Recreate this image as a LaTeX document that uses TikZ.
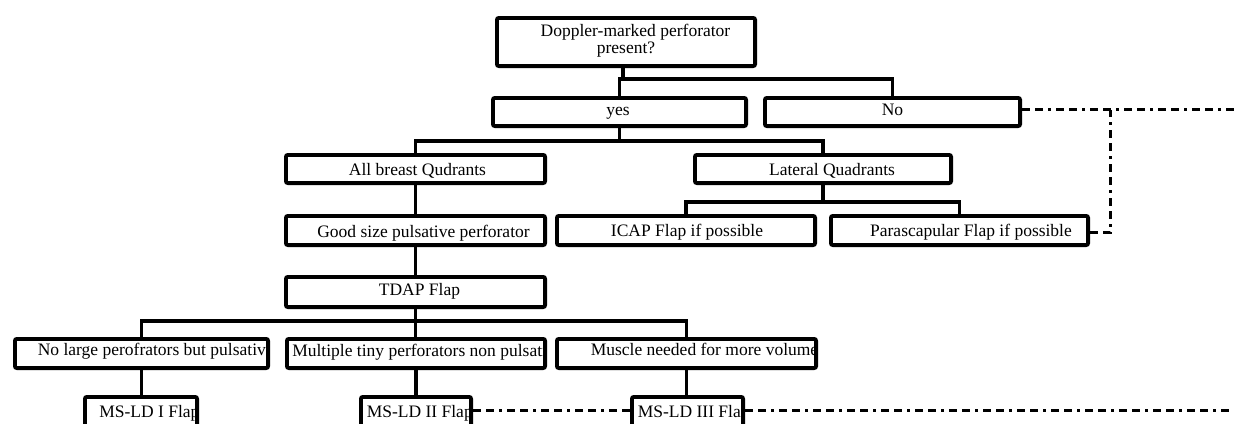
\documentclass[tikz,border=0pt]{standalone}
\usepackage{fontspec}
\setmainfont{Liberation Serif}
\begin{document}
\begin{tikzpicture}[x=1pt,y=-1pt,
  fs/.style={font=\fontsize{17.5}{19}\selectfont},
  inner/.style={inner sep=0pt, minimum width=0pt, minimum height=0pt, draw=none, fs},
  box/.style={draw, line width=3.8pt, rounded corners=2pt, inner sep=0pt, minimum height=28.2pt},
  ctext/.style n args={3}{path picture={\node[inner, anchor=base] at ([xshift=#1, yshift=#2]path picture bounding box.center) {#3};}},
  ltext/.style n args={3}{path picture={\node[inner, anchor=base west] at ([xshift=#1, yshift=#2]path picture bounding box.west) {#3};}},
  conn/.style={line width=3.8pt},
  dashconn/.style={line width=3pt, dash pattern=on 8pt off 5pt on 8pt off 5pt on 3pt off 5pt}
]
\path[use as bounding box] (0,0) rectangle (1234,423);
\clip (0,0) rectangle (1234,423);

% row 0
\node[box, minimum width=258.2pt, minimum height=48.2pt,
  path picture={
    \node[inner, anchor=base] at ([xshift=9.5pt, yshift=6pt]path picture bounding box.center) {Doppler-marked perforator};
    \node[inner, anchor=base] at ([yshift=-11pt]path picture bounding box.center) {present?};}]
  (top) at (626,42) {};
% row 1
\node[box, minimum width=253.2pt, ctext={-1.5pt}{-3pt}{yes}] (yes) at (619.5,112) {};
\node[box, minimum width=255.2pt, ctext={0pt}{-3.5pt}{No}] (no) at (892.5,112) {};
% row 2
\node[box, minimum width=259.2pt, ctext={2pt}{-6pt}{All breast Qudrants}] (allq) at (415.5,169) {};
\node[box, minimum width=256.2pt, ctext={9pt}{-6pt}{Lateral Quadrants}] (latq) at (823,169) {};
% row 3
\node[box, minimum width=259.2pt, minimum height=29.2pt, ctext={8pt}{-6.5pt}{Good size pulsative perforator}] (good) at (415.5,230.5) {};
\node[box, minimum width=258.2pt, minimum height=29.2pt, ctext={1pt}{-6pt}{ICAP Flap if possible}] (icap) at (686,230.5) {};
\node[box, minimum width=257.2pt, minimum height=29.2pt, ctext={11.5pt}{-6pt}{Parascapular Flap if possible}] (para) at (959.5,230.5) {};
% row 4
\node[box, minimum width=259.2pt, minimum height=30.2pt, ctext={4pt}{-3pt}{TDAP Flap}] (tdap) at (415.5,292) {};
% row 5
\node[box, minimum width=253.2pt, minimum height=29.2pt, ltext={21pt}{-2pt}{No large perofrators but pulsative}] (nolarge) at (141.5,353.5) {};
\node[box, minimum width=258.2pt, minimum height=29.2pt, ltext={3.5pt}{-3pt}{Multiple tiny perforators non pulsati}] (multi) at (416,353.5) {};
\node[box, minimum width=259.2pt, minimum height=29.2pt, ltext={32pt}{-1.5pt}{Muscle needed for more volume}] (muscle) at (686.5,353.5) {};
% row 6
\node[box, minimum width=112.2pt, minimum height=56.2pt, ltext={12.5pt}{8pt}{MS-LD I Flap}] (ms1) at (141,425) {};
\node[box, minimum width=110.2pt, minimum height=56.2pt, ltext={4pt}{8pt}{MS-LD II Flap}] (ms2) at (416,425) {};
\node[box, minimum width=111.2pt, minimum height=56.2pt, ltext={4pt}{8pt}{MS-LD III Fla}] (ms3) at (687.5,425) {};

% junctions
\coordinate (j1) at (623,79);
\coordinate (j2) at (619.5,141);
\coordinate (j3) at (823,202);
\coordinate (j4) at (415.5,321);

% connectors
\draw[conn] (top.south -| j1) -- (j1);
\draw[conn] (yes.north) |- (j1) -| (no.north);
\draw[conn] (yes.south) -- (j2);
\draw[conn] (allq.north) |- (j2) -| (latq.north);
\draw[conn] (latq.south) -- (j3);
\draw[conn] (icap.north) |- (j3) -| (para.north);
\draw[conn] (allq.south) -- (allq.south |- good.north);
\draw[conn] (good.south) -- (good.south |- tdap.north);
\draw[conn] (tdap.south) -- (j4);
\draw[conn] (nolarge.north) |- (j4) -| (muscle.north);
\draw[conn] (j4) -- (j4 |- multi.north);
\draw[conn] (nolarge.south) -- (nolarge.south |- ms1.north);
\draw[conn] (multi.south) -- (multi.south |- ms2.north);
\draw[conn] (muscle.south) -- (muscle.south |- ms3.north);

% dashed connectors
\coordinate (rtop) at (1234,109.5);
\coordinate (dv) at (1110,109.5);
\coordinate (rbot) at (1234,410);
\draw[dashconn] (no.east |- rtop) -- (rtop);
\draw[dashconn] ([yshift=-2pt]para.east) -| (dv);
\draw[dashconn] (ms2.east |- rbot) -- (ms3.west |- rbot);
\draw[dashconn] (ms3.east |- rbot) -- (rbot);
\end{tikzpicture}
\end{document}
